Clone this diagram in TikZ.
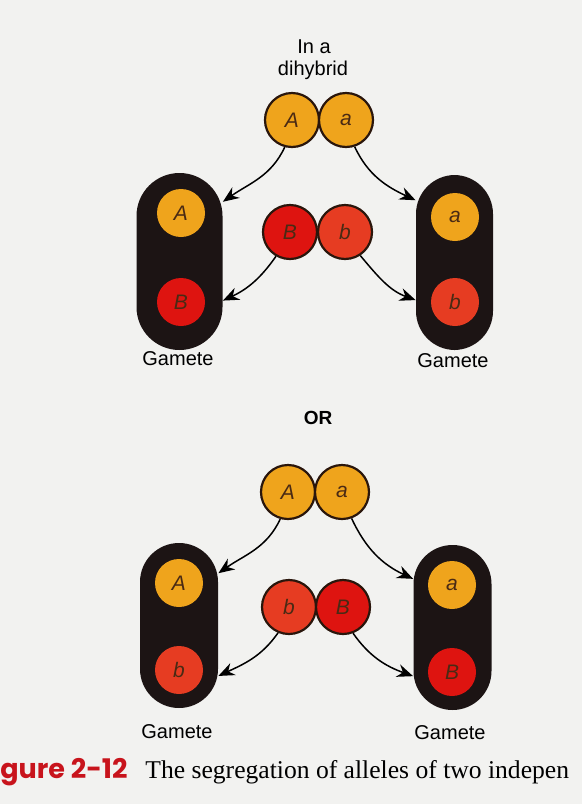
\documentclass[tikz,border=0pt]{standalone}
\usepackage{fontspec}
\setmainfont{Liberation Serif}
\setsansfont{Liberation Sans}
\newfontfamily\figfont{Poppins}
\usepackage{xcolor}
\usetikzlibrary{arrows.meta}
\definecolor{paperc}{HTML}{F2F2F0}
\definecolor{orangec}{HTML}{EFA41C}
\definecolor{redc}{HTML}{DE1410}
\definecolor{redoc}{HTML}{E63C22}
\definecolor{outlinec}{HTML}{2A160C}
\definecolor{letterc}{HTML}{4A2A14}
\definecolor{pillc}{HTML}{1C1414}
\definecolor{figurec}{HTML}{C8141C}
\tikzset{
  allelenode/.style={circle, draw=outlinec, line width=1.1pt, minimum size=27pt,
    inner sep=0pt, font=\sffamily\itshape\fontsize{10.5}{12}\selectfont, text=letterc},
  yellownode/.style={allelenode, fill=orangec},
  rednode/.style={allelenode, fill=redc},
  redonode/.style={allelenode, fill=redoc},
  innernode/.style={draw=none, minimum size=24pt},
  gametenode/.style={rectangle, rounded corners=19.5pt, fill=pillc, draw=none,
    minimum width=39pt, minimum height=88pt, inner sep=0pt},
  labelnode/.style={font=\sffamily\fontsize{10}{11}\selectfont, inner sep=0pt},
  segedge/.style={-{Stealth[length=8pt, width=6.5pt]}, draw=black, line width=0.75pt},
}
\begin{document}
\begin{tikzpicture}[x=0.5pt, y=0.5pt]
  \useasboundingbox[fill=paperc] (0,0) rectangle (582,-804);
  % upper case
  \node[labelnode] (ina) at (314,-47) {In a};
  \node[labelnode] (dihyb) at (313,-70) {dihybrid};
  \node[yellownode] (A1) at (292,-120) {A};
  \node[yellownode] (a1) at (346,-120) {a};
  \node[rednode] (B1) at (290,-232) {B};
  \node[redonode] (b1) at (345,-232) {b};
  \node[gametenode, minimum width=43pt, minimum height=88.5pt, rounded corners=21.5pt] (gl1) at (179.5,-261.5) {};
  \node[gametenode, minimum width=38.5pt, minimum height=87.5pt] (gr1) at (454.5,-262.5) {};
  \node[yellownode, innernode] (gA1) at (181,-213) {A};
  \node[rednode, innernode] (gB1) at (181,-302) {B};
  \node[yellownode, innernode] (ga1) at (455,-217) {a};
  \node[redonode, innernode] (gb1) at (455,-302) {b};
  \node[labelnode] (gam1) at (178,-359) {Gamete};
  \node[labelnode] (gam2) at (453,-361) {Gamete};
  \draw[segedge] (A1.-105) to[out=-115, in=35] (gl1.54);
  \draw[segedge] (a1.-72) to[out=-65, in=155] (gr1.122);
  \draw[segedge] (B1.-120) to[out=-125, in=25] (gl1.-42);
  \draw[segedge] (b1.-57) to[out=-50, in=160] (gr1.-136);
  \node[labelnode, font=\sffamily\bfseries\fontsize{9.5}{11}\selectfont] (or) at (318,-418) {OR};
  % lower case
  \node[yellownode] (A2) at (288,-492) {A};
  \node[yellownode] (a2) at (342,-492) {a};
  \node[redonode] (b2) at (289,-607) {b};
  \node[rednode] (B2) at (343,-607) {B};
  \node[gametenode, minimum height=82.5pt] (gl2) at (179,-625.5) {};
  \node[gametenode, minimum height=82.5pt] (gr2) at (452.5,-627.5) {};
  \node[yellownode, innernode] (gA2) at (179,-583) {A};
  \node[redonode, innernode] (gb2) at (179,-670) {b};
  \node[yellownode, innernode] (ga2) at (452,-585) {a};
  \node[rednode, innernode] (gB2) at (452,-672) {B};
  \node[labelnode] (gam3) at (177,-732) {Gamete};
  \node[labelnode] (gam4) at (450,-733) {Gamete};
  \draw[segedge] (A2.-106) to[out=-115, in=35] (gl2.53);
  \draw[segedge] (a2.-70) to[out=-65, in=155] (gr2.129);
  \draw[segedge] (b2.-113) to[out=-125, in=25] (gl2.-52);
  \draw[segedge] (B2.-69) to[out=-55, in=160] (gr2.-129);
  % caption
  \node[anchor=base west, inner sep=0pt, text=figurec, font=\figfont\bfseries\fontsize{13.5}{15}\selectfont] (fignum) at (0,-778) {gure 2-12};
  \node[anchor=base west, inner sep=0pt, font=\rmfamily\fontsize{12.8}{15}\selectfont] (figtext) at (145,-778) {The segregation of alleles of two indepen};
\end{tikzpicture}
\end{document}
